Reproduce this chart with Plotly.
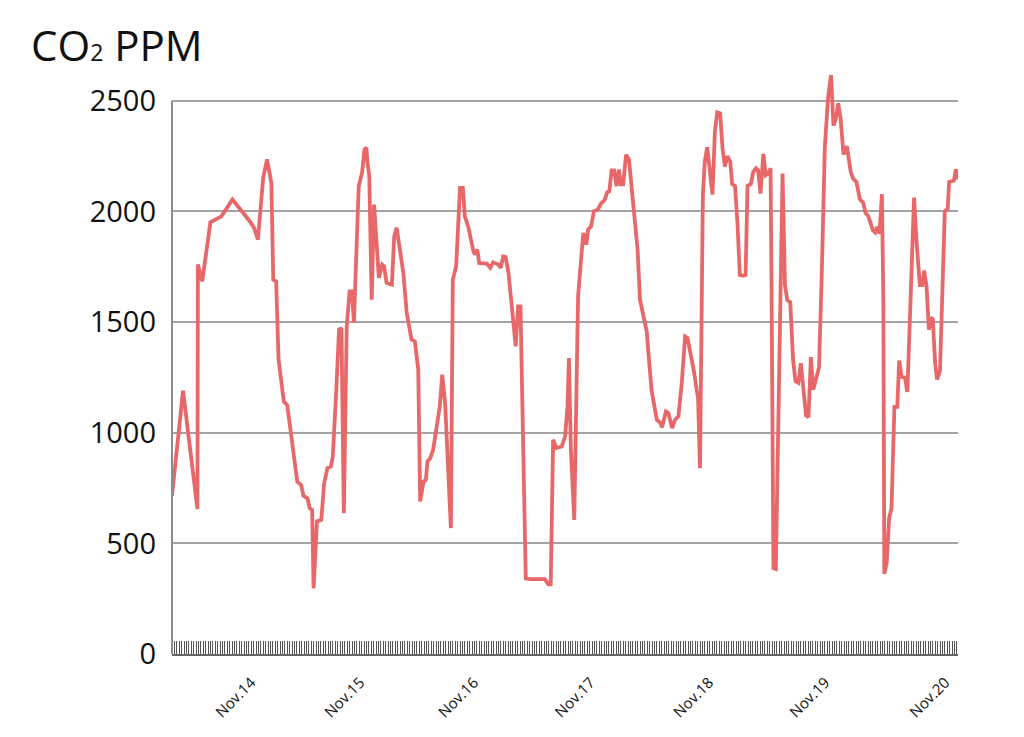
import plotly.graph_objects as go

# Time in hours from start of record, CO2 concentration in ppm
hours = [0.0, 2.3, 5.3, 5.4, 6.3, 8.0, 10.3, 12.6, 16.2, 17.1, 17.9, 19.0, 19.8, 20.7, 21.1, 21.7,
         22.2, 23.3, 24.0, 26.1, 26.9, 27.4, 28.2, 28.7, 29.2, 29.5, 30.2, 31.1, 31.7, 32.4, 33.1,
         33.5, 34.2, 34.8, 35.3, 35.8, 36.4, 37.0, 37.5, 37.9, 38.9, 39.6, 40.1, 40.5, 40.7, 41.1,
         41.6, 42.1, 43.1, 43.8, 44.2, 44.7, 45.8, 46.3, 46.8, 47.5, 48.2, 48.9, 49.9, 50.6, 51.3,
         51.7, 52.4, 52.9, 53.2, 53.8, 54.4, 55.8, 56.3, 56.9, 58.1, 58.5, 59.2, 60.0, 60.6, 61.0,
         61.7, 62.8, 63.1, 63.6, 64.0, 65.6, 66.3, 66.9, 68.0, 68.5, 69.0, 69.5, 70.1, 71.0, 71.6,
         72.1, 72.6, 73.7, 74.6, 77.7, 78.4, 78.9, 79.4, 80.1, 81.2, 81.9, 82.4, 82.7, 83.1, 83.8,
         84.6, 85.4, 85.7, 86.3, 86.7, 87.3, 87.9, 88.7, 89.4, 90.1, 90.7, 91.1, 91.6, 92.1, 92.6,
         93.1, 93.5, 94.0, 94.6, 95.2, 95.9, 96.5, 97.0, 97.5, 98.2, 98.9, 99.2, 99.9, 101.0, 101.7,
         102.1, 102.9, 103.4, 104.2, 104.8, 105.5, 106.2, 106.9, 107.4, 107.9, 108.8, 109.3, 109.6,
         110.0, 110.6, 111.0, 111.5, 112.6, 113.1, 113.6, 114.2, 114.7, 115.2, 115.7, 116.3, 116.7,
         117.3, 117.8, 118.3, 119.0, 119.5, 119.9, 120.6, 121.1, 121.7, 122.1, 122.6, 123.2, 123.7,
         124.2, 124.7, 124.9, 125.3, 125.8, 127.2, 127.7, 128.2, 128.8, 129.4, 129.9, 130.5, 131.0,
         131.5, 132.1, 132.6, 133.1, 133.6, 134.2, 134.8, 135.4, 136.0, 136.7, 137.3, 137.8, 138.3,
         138.8, 139.3, 139.9, 140.6, 141.4, 141.9, 142.6, 143.3, 144.0, 144.5, 145.1, 146.0, 146.5,
         146.9, 147.4, 147.9, 148.2, 148.4, 148.9, 149.4, 149.9, 150.5, 151.1, 151.5, 152.0, 152.7,
         153.2, 153.8, 154.6, 155.1, 155.8, 156.3, 156.7, 157.2, 157.7, 158.1, 158.5, 159.0, 159.4,
         160.0, 160.6, 161.0, 161.6, 161.9, 162.9, 163.3, 163.75]

ppm = [715, 1190, 655, 1760, 1684, 1951, 1978, 2054, 1956, 1926, 1873, 2152, 2235, 2129, 1692, 1684,
       1330, 1141, 1126, 779, 764, 715, 704, 659, 651, 297, 599, 606, 772, 840, 847,
       893, 1179, 1466, 1473, 636, 1481, 1639, 1639, 1496, 2114, 2175, 2280, 2288, 2227, 2159,
       1601, 2031, 1700, 1760, 1752, 1677, 1669, 1888, 1926, 1813, 1722, 1541, 1421, 1413, 1285,
       689, 779, 787, 870, 885, 923, 1119, 1262, 1134, 569, 1692, 1752, 2107, 2107, 1978,
       1933, 1820, 1805, 1828, 1767, 1764, 1745, 1770, 1760, 1745, 1797, 1794, 1722, 1526, 1390,
       1571, 1571, 342, 338, 338, 315, 315, 968, 931, 938, 983, 1119, 1338, 923, 606,
       1616, 1828, 1903, 1850, 1918, 1933, 2001, 2009, 2036, 2051, 2087, 2091, 2186, 2186, 2114,
       2190, 2122, 2122, 2257, 2235, 2085, 1933, 1828, 1601, 1526, 1458, 1375, 1194, 1059, 1046,
       1025, 1096, 1089, 1021, 1059, 1074, 1225, 1435, 1428, 1375, 1270, 1194, 1157,
       840, 2076, 2226, 2290, 2076, 2361, 2448, 2443, 2282, 2203, 2250, 2226, 2124,
       2116, 1950, 1713, 1710, 1713, 2116, 2124, 2179, 2195, 2187, 2081, 2260, 2164,
       2171, 2195, 1667, 388, 384, 2171, 1667, 1598, 1590, 1326, 1233, 1226, 1314,
       1187, 1078, 1070, 1342, 1195, 1241, 1295, 1745, 2288, 2520, 2616, 2388, 2419,
       2489, 2419, 2257, 2295, 2179, 2148, 2133, 2055, 2040, 1993, 1978, 1916, 1905,
       1931, 1900, 2078, 1590, 362, 412, 613, 660, 1117, 1117, 1326, 1252, 1249,
       1184, 1590, 2063, 1869, 1667, 1667, 1733, 1660, 1466, 1520, 1512, 1311, 1241,
       1280, 1745, 2001, 2012, 2133, 2140, 2190, 2145]

day_labels = ["Nov.14", "Nov.15", "Nov.16", "Nov.17", "Nov.18", "Nov.19", "Nov.20"]
day_positions = [16.5, 39.2, 62.9, 87.2, 111.9, 136.1, 161.1]
y_ticks = [0, 500, 1000, 1500, 2000, 2500]

LINE = "#E8686A"
GRID = "#A3A3A3"
AXIS = "#8C8C8C"

fig = go.Figure()
fig.add_trace(go.Scatter(
    x=hours, y=ppm, mode="lines",
    line=dict(color=LINE, width=3.8),
    hoverinfo="x+y", showlegend=False,
))

fig.update_layout(
    width=1024, height=737,
    margin=dict(l=172, r=66, t=61, b=83),
    paper_bgcolor="white", plot_bgcolor="white",
    font=dict(family="Open Sans, Noto Sans, sans-serif", color="#111"),
    xaxis=dict(
        range=[0, 163.75],
        tickmode="array", tickvals=day_positions, ticktext=day_labels,
        tickangle=-45, ticks="", tickfont=dict(size=15, color="#111"),
        ticklabelstandoff=12,
        showgrid=False, zeroline=False,
        showline=True, linecolor="#666", linewidth=2,
        minor=dict(tickmode="linear", tick0=0, dtick=0.5, ticks="inside",
                   ticklen=13, tickwidth=1, tickcolor="#555", showgrid=False),
    ),
    yaxis=dict(
        range=[0, 2680],
        tickmode="array", tickvals=y_ticks,
        ticks="", tickfont=dict(size=29, color="#111"),
        ticklabelstandoff=15,
        showgrid=True, gridcolor=GRID, gridwidth=1.5,
        zeroline=False, showline=False,
    ),
)

# left axis line only up to the top gridline
fig.add_shape(type="line", xref="x domain", yref="y",
              x0=0, x1=0, y0=0, y1=y_ticks[-1],
              line=dict(color=AXIS, width=2))

fig.add_annotation(
    xref="paper", yref="paper", x=-0.182, y=1.027,
    xanchor="left", yanchor="middle", showarrow=False,
    text="CO<span style='font-size:23px'>2</span> PPM",
    font=dict(size=42, color="#111", family="Open Sans, Noto Sans, sans-serif"),
)

fig.write_html("out.html")
